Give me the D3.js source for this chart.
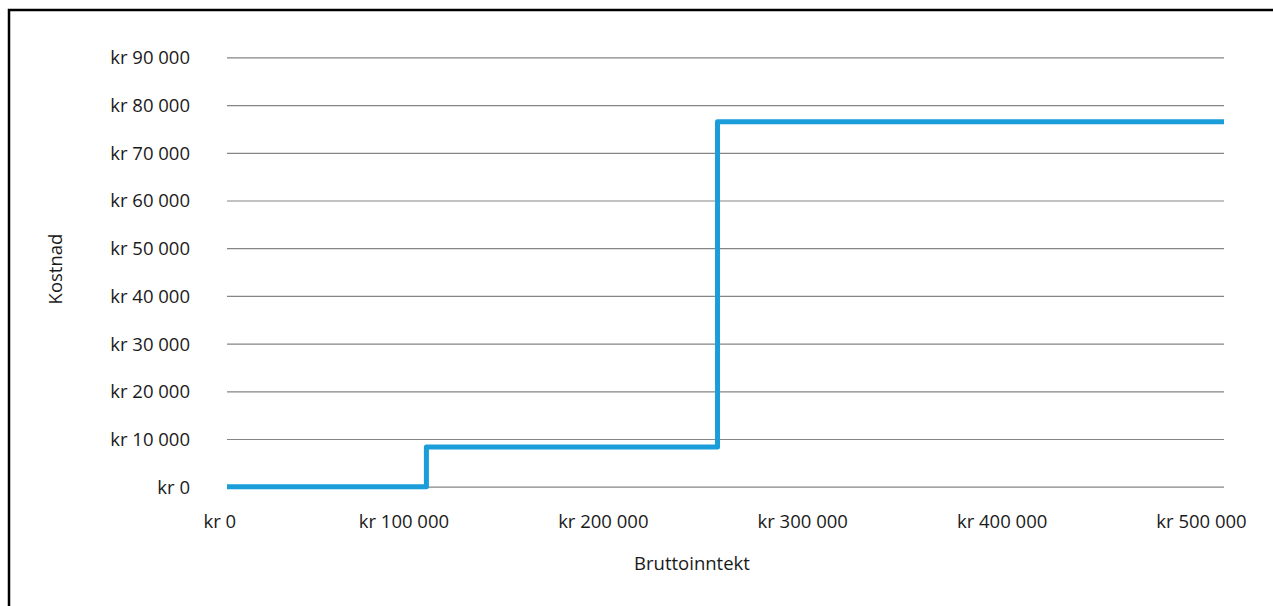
<!DOCTYPE html>
<html lang="no">
<head>
<meta charset="utf-8">
<script src="https://cdn.jsdelivr.net/npm/d3@7"></script>
<style>
  html, body { margin: 0; padding: 0; background: #fff; }
  svg { display: block; }
  text { font-family: "Open Sans", "Noto Sans", sans-serif; fill: #1a1a1a; }
</style>
</head>
<body>
<svg id="chart" width="1273" height="606"></svg>
<script>
// Trinnvis kostnad som funksjon av bruttoinntekt
const incomePoints = [0, 100000, 100000, 246000, 246000, 500000];
const costPoints   = [0, 0, 8300, 8300, 76500, 76500];
const xTickValues  = [0, 100000, 200000, 300000, 400000, 500000];
const yTickValues  = [0, 10000, 20000, 30000, 40000, 50000, 60000, 70000, 80000, 90000];
const xTitle = "Bruttoinntekt";
const yTitle = "Kostnad";

const fmtKr = v => "kr " + d3.format(",")(v).replace(/,/g, " ");

const svg = d3.select("#chart");
const W = 1273, H = 606;
const plot = { left: 227, right: 1224, top: 57.4, bottom: 486.7 };

// Ramme rundt diagrammet
svg.append("rect")
  .attr("x", 9).attr("y", 10)
  .attr("width", 1400).attr("height", 800)
  .attr("fill", "none").attr("stroke", "#000").attr("stroke-width", 2.5);

const x = d3.scaleLinear().domain([0, 500000]).range([plot.left, plot.right]);
const y = d3.scaleLinear().domain([0, 90000]).range([plot.bottom, plot.top]);

// Horisontale rutenettlinjer og y-etiketter
const yAxis = d3.axisLeft(y)
  .tickValues(yTickValues)
  .tickFormat(fmtKr)
  .tickSize(-(plot.right - plot.left))
  .tickPadding(37);
const gy = svg.append("g")
  .attr("transform", `translate(${plot.left},0)`)
  .call(yAxis);
gy.select(".domain").remove();
gy.selectAll(".tick line").attr("stroke", "#858585").attr("stroke-width", 1.2);
gy.selectAll(".tick text")
  .attr("font-size", "18.5px")
  .attr("fill", "#1a1a1a")
  .attr("dy", "0.35em");

// x-etiketter
const gx = svg.append("g")
  .attr("transform", `translate(0,${plot.bottom})`)
  .call(d3.axisBottom(x).tickValues(xTickValues).tickFormat(fmtKr).tickSize(0).tickPadding(0));
gx.select(".domain").remove();
gx.selectAll(".tick text")
  .attr("font-size", "18.5px")
  .attr("fill", "#1a1a1a")
  .attr("x", -23)
  .attr("y", 41)
  .attr("dy", 0);
// Første etikett holdes klar av y-aksens etiketter
const minLeft = 203;
gx.selectAll(".tick").each(function(d) {
  const t = d3.select(this).select("text");
  const bb = t.node().getBBox();
  const left = x(d) + bb.x;
  if (left < minLeft) t.attr("x", +t.attr("x") + (minLeft - left));
});

// Kostnadskurven
const line = d3.line()
  .x((d, i) => x(incomePoints[i]))
  .y((d, i) => y(costPoints[i]));
svg.append("path")
  .datum(incomePoints)
  .attr("d", line)
  .attr("fill", "none")
  .attr("stroke", "#1b9dd9")
  .attr("stroke-width", 5)
  .attr("stroke-linejoin", "round");

// Aksetitler
svg.append("text")
  .attr("x", 692).attr("y", 570)
  .attr("text-anchor", "middle")
  .attr("font-size", "18.5px")
  .text(xTitle);
svg.append("text")
  .attr("transform", "translate(62,269) rotate(-90)")
  .attr("text-anchor", "middle")
  .attr("font-size", "18.5px")
  .text(yTitle);
</script>
</body>
</html>
